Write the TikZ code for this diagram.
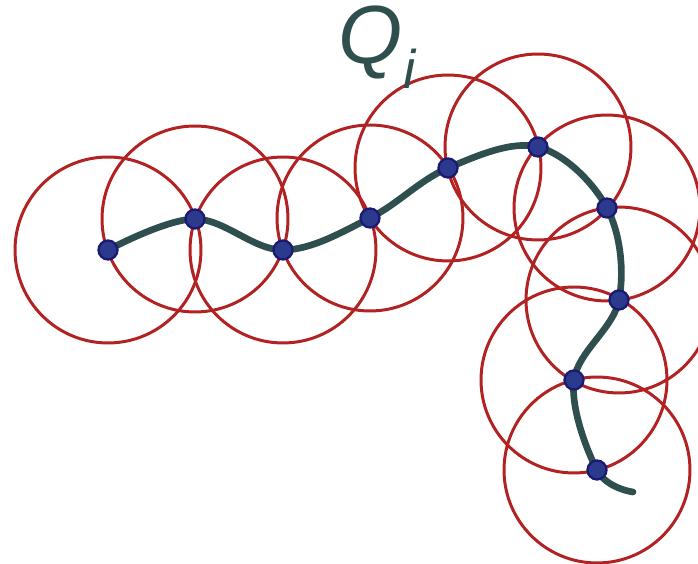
\documentclass[tikz,border=0pt]{standalone}
\usepackage{fontspec}
\setmainfont{Liberation Sans}
\usepackage{tikz}
\definecolor{slate}{HTML}{2F4F4F}
\definecolor{ringred}{HTML}{B22222}
\definecolor{dotblue}{HTML}{2B3A8C}
\definecolor{dotrim}{HTML}{1A1A70}

\begin{document}
\begin{tikzpicture}[
  x=0.02cm, y=-0.02cm,
  ring/.style={draw=ringred, line width=1.7pt},
  trail/.style={draw=slate, line width=3.8pt, line cap=round},
  dot/.style={circle, fill=dotblue, draw=dotrim, line width=1.3pt, minimum size=0.38cm, inner sep=0pt},
  label/.style={text=slate, inner sep=0pt, font=\fontsize{47}{52}\selectfont\itshape}
]
\useasboundingbox (0,0) rectangle (698,564);

% sample points along the path
\coordinate (p1)  at (108,250);
\coordinate (p2)  at (195,219);
\coordinate (p3)  at (283,250);
\coordinate (p4)  at (370,218);
\coordinate (p5)  at (448,168);
\coordinate (p6)  at (538,147);
\coordinate (p7)  at (607,208);
\coordinate (p8)  at (619,300);
\coordinate (p9)  at (574,380);
\coordinate (p10) at (597,470);
\coordinate (tail) at (633,492);

\draw[trail] plot[smooth, tension=0.6] coordinates {(p1) (p2) (p3) (p4) (p5) (p6) (p7) (p8) (p9) (p10) (tail)};

\foreach \i in {1,...,10}
  \draw[ring] (p\i) circle[radius=1.86cm];

\foreach \i in {1,...,10}
  \node[dot] (d\i) at (p\i) {};

\node[label] (title) at (377,47) {Q\raisebox{-0.3em}{\fontsize{31}{31}\selectfont i}};

\end{tikzpicture}
\end{document}
